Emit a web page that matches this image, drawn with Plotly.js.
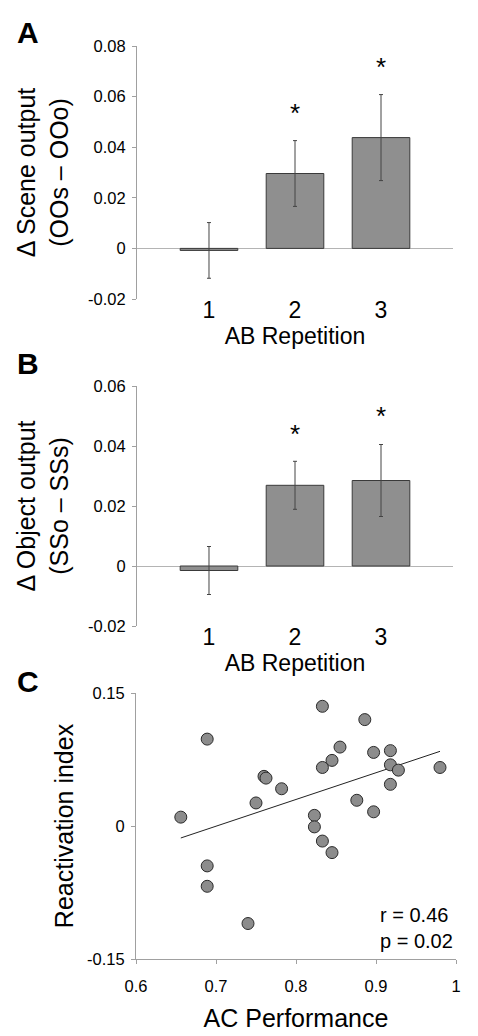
<!DOCTYPE html>
<html>
<head>
<meta charset="utf-8">
<script src="https://cdn.plot.ly/plotly-3.0.1.min.js"></script>
<style>
html,body{margin:0;padding:0;background:#fff;}
#chart{width:478px;height:1036px;}
</style>
</head>
<body>
<div id="chart"></div>
<script>
// ---- Data ----
const categories = ['1', '2', '3'];

// Panel A: Δ Scene output (OOs – OOo)
const sceneValues = [-0.0008, 0.0296, 0.0438];
const sceneErrors = [0.011, 0.013, 0.017];
const sceneStarY = [null, 0.056, 0.074];

// Panel B: Δ Object output (SSo – SSs)
const objectValues = [-0.0015, 0.0269, 0.0285];
const objectErrors = [0.008, 0.008, 0.012];
const objectStarY = [null, 0.046, 0.052];

// Panel C: AC Performance vs Reactivation index
const acPerformance = [0.656, 0.689, 0.689, 0.689, 0.740, 0.750, 0.760, 0.7625, 0.782, 0.823, 0.823, 0.833, 0.833, 0.833, 0.845, 0.845, 0.855, 0.876, 0.886, 0.897, 0.897, 0.918, 0.918, 0.918, 0.928, 0.980];
const reactivation = [0.010, 0.098, -0.045, -0.068, -0.110, 0.026, 0.056, 0.054, 0.042, 0.012, -0.001, 0.135, 0.066, -0.017, 0.074, -0.030, 0.089, 0.029, 0.120, 0.083, 0.016, 0.085, 0.069, 0.047, 0.063, 0.066];
const trendX = [0.656, 0.980];
const trendY = [-0.0135, 0.0842];
const statsText = ['r = 0.46', 'p = 0.02'];

// Tick labels
const yTicksA = [-0.02, 0, 0.02, 0.04, 0.06, 0.08];
const yTickTextA = ['-0.02', '0', '0.02', '0.04', '0.06', '0.08'];
const yTicksB = [-0.02, 0, 0.02, 0.04, 0.06];
const yTickTextB = ['-0.02', '0', '0.02', '0.04', '0.06'];
const yTicksC = [-0.15, 0, 0.15];
const yTickTextC = ['-0.15', '0', '0.15'];
const xTicksC = [0.6, 0.7, 0.8, 0.9, 1];
const xTickTextC = ['0.6', '0.7', '0.8', '0.9', '1'];

// ---- Styles ----
const FONT = 'Liberation Sans, Arial, Helvetica, sans-serif';
const barFill = '#8f8f8f';
const barLine = '#3a3a3a';
const axisGray = '#a0a0a0';
const errColor = '#444';

function barTrace(vals, errs, xa, ya) {
  return {
    type: 'bar', x: categories, y: vals, xaxis: xa, yaxis: ya,
    width: 0.67,
    marker: {color: barFill, line: {color: barLine, width: 1}},
    error_y: {type: 'data', array: errs, visible: true, color: errColor, thickness: 1, width: 2},
    hoverinfo: 'none', showlegend: false
  };
}

const traces = [
  barTrace(sceneValues, sceneErrors, 'x', 'y'),
  barTrace(objectValues, objectErrors, 'x2', 'y2'),
  {
    type: 'scatter', mode: 'lines', x: trendX, y: trendY, xaxis: 'x3', yaxis: 'y3',
    line: {color: '#222', width: 1}, hoverinfo: 'none', showlegend: false
  },
  {
    type: 'scatter', mode: 'markers', x: acPerformance, y: reactivation, xaxis: 'x3', yaxis: 'y3',
    marker: {size: 12, color: '#8c8c8c', line: {color: '#2a2a2a', width: 1}},
    hoverinfo: 'none', showlegend: false
  }
];

function px2x(p) { return p / 478; }
function px2y(p) { return 1 - p / 1036; }

const catAxis = (domain, anchor, title) => ({
  domain: domain, anchor: anchor, type: 'category', range: [-0.837, 2.837],
  showline: false, ticks: '', showgrid: false, zeroline: false,
  tickfont: {family: FONT, size: 23, color: '#000'},
  ticklabelstandoff: -5,
  title: {text: title, font: {family: FONT, size: 23, color: '#000'}, standoff: 2},
  fixedrange: true
});

const valAxis = (domain, anchor, range, tv, tt, title, zero, standoff) => ({
  domain: domain, anchor: anchor, range: range,
  tickmode: 'array', tickvals: tv, ticktext: tt,
  showline: true, linecolor: axisGray, linewidth: 1,
  ticks: 'outside', ticklen: 4, tickcolor: axisGray, tickwidth: 1,
  showgrid: false, zeroline: zero, zerolinecolor: '#b4b4b4', zerolinewidth: 1,
  tickfont: {family: FONT, size: 16.5, color: '#000'},
  ticklabelstandoff: 3,
  title: {text: title, font: {family: FONT, size: 25, color: '#000'}, standoff: standoff},
  fixedrange: true
});

const annotations = [];
function addStars(starY, xref, yref) {
  starY.forEach((v, i) => {
    if (v === null) return;
    annotations.push({x: i, y: v, xref: xref, yref: yref, text: '*', showarrow: false,
      font: {family: FONT, size: 26, color: '#000'}, xanchor: 'center', yanchor: 'middle', yshift: -6});
  });
}
addStars(sceneStarY, 'x', 'y');
addStars(objectStarY, 'x2', 'y2');

// Panel letters
[['A', 32], ['B', 363], ['C', 681]].forEach(([t, py]) => {
  annotations.push({x: px2x(28), y: px2y(py), xref: 'paper', yref: 'paper', text: '<b>' + t + '</b>',
    showarrow: false, font: {family: FONT, size: 30, color: '#000'}, xanchor: 'center', yanchor: 'middle'});
});

// Stats text
annotations.push({x: 0.903, y: -0.1148, xref: 'x3', yref: 'y3', text: statsText.join('<br>'),
  showarrow: false, align: 'left', xanchor: 'left', yanchor: 'middle',
  font: {family: FONT, size: 20, color: '#000'}});

const layout = {
  width: 478, height: 1036,
  margin: {l: 0, r: 0, t: 0, b: 0},
  paper_bgcolor: '#fff', plot_bgcolor: 'rgba(0,0,0,0)',
  font: {family: FONT, color: '#000'},
  showlegend: false,
  bargap: 0,
  xaxis: catAxis([px2x(137), px2x(453)], 'y', 'AB Repetition'),
  yaxis: valAxis([px2y(299), px2y(46)], 'x', [-0.02, 0.08], yTicksA, yTickTextA,
    'Δ Scene output<br>(OOs – OOo)', true, 12),
  xaxis2: catAxis([px2x(137), px2x(453)], 'y2', 'AB Repetition'),
  yaxis2: valAxis([px2y(626), px2y(386)], 'x2', [-0.02, 0.06], yTicksB, yTickTextB,
    'Δ Object output<br>(SSo – SSs)', true, 12),
  xaxis3: {
    domain: [px2x(136), px2x(456)], anchor: 'y3', range: [0.6, 1],
    tickmode: 'array', tickvals: xTicksC, ticktext: xTickTextC,
    showline: true, linecolor: axisGray, linewidth: 1,
    ticks: 'outside', ticklen: 4, tickcolor: axisGray,
    showgrid: false, zeroline: false,
    tickfont: {family: FONT, size: 16.5, color: '#000'},
    ticklabelstandoff: 8,
    title: {text: 'AC Performance', font: {family: FONT, size: 25, color: '#000'}, standoff: 15},
    fixedrange: true
  },
  yaxis3: valAxis([px2y(959), px2y(693)], 'x3', [-0.15, 0.15], yTicksC, yTickTextC,
    'Reactivation index', false, 6),
  annotations: annotations
};

Plotly.newPlot('chart', traces, layout, {displayModeBar: false, staticPlot: true});
</script>
</body>
</html>
